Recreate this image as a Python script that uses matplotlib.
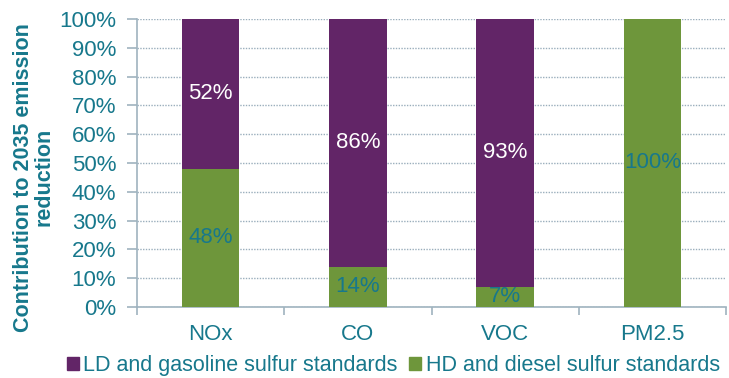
"""Contribution of LD and HD standards to 2035 emission reduction, stacked to 100%."""
import matplotlib.pyplot as plt
import numpy as np
from matplotlib.patches import Patch

CATEGORIES = ["NOx", "CO", "VOC", "PM2.5"]
HD_SHARE = [48, 14, 7, 100]   # HD and diesel sulfur standards (bottom)
LD_SHARE = [52, 86, 93, 0]    # LD and gasoline sulfur standards (top)
SERIES = ["LD and gasoline sulfur standards", "HD and diesel sulfur standards"]

PURPLE = "#622567"
GREEN = "#6e963b"
TEAL = "#17788c"
AXIS = "#9fb3bf"
FS = 16

plt.rcParams["font.family"] = ["Liberation Sans", "DejaVu Sans"]

fig = plt.figure(figsize=(7.29, 3.78), dpi=100)
ax = fig.add_axes([0.188, 0.188, 0.808, 0.762])

x = np.arange(len(CATEGORIES))
width = 0.39
ax.bar(x, HD_SHARE, width, color=GREEN, zorder=3)
ax.bar(x, LD_SHARE, width, bottom=HD_SHARE, color=PURPLE, zorder=3)

for xi, hd, ld in zip(x, HD_SHARE, LD_SHARE):
    if hd > 0:
        ax.text(xi, hd / 2, f"{hd}%", ha="center", va="center",
                color=TEAL, fontsize=FS, zorder=4)
    if ld > 0:
        ax.text(xi, hd + ld / 2, f"{ld}%", ha="center", va="center",
                color="white", fontsize=FS, zorder=4)

ax.set_xlim(-0.5, len(CATEGORIES) - 0.5)
ax.set_ylim(0, 100)
ax.set_yticks(np.arange(0, 101, 10))
ax.set_yticklabels([f"{v}%" for v in range(0, 101, 10)])
ax.set_xticks(x)
ax.set_xticklabels(CATEGORIES)
ax.set_xticks(np.arange(-0.5, len(CATEGORIES), 1), minor=True)

ax.grid(axis="y", linestyle=(0, (1, 1)), color="#9aaebc", linewidth=1.0, zorder=0)
for side in ("top", "right"):
    ax.spines[side].set_visible(False)
for side in ("left", "bottom"):
    ax.spines[side].set_color(AXIS)
    ax.spines[side].set_linewidth(1.2)

ax.tick_params(axis="y", colors=AXIS, labelcolor=TEAL, labelsize=FS,
               length=7, width=1.2, pad=8)
ax.tick_params(axis="x", which="major", length=0, labelcolor=TEAL,
               labelsize=FS, pad=12)
ax.tick_params(axis="x", which="minor", colors=AXIS, length=6, width=1.2,
               direction="out")

ax.set_ylabel("Contribution to 2035 emission\nreduction", color=TEAL,
              fontsize=15.5, fontweight="bold", linespacing=1.0)
ax.yaxis.set_label_coords(-0.14, 0.45)

handles = [Patch(color=PURPLE), Patch(color=GREEN)]
fig.legend(handles, SERIES, loc="center left", ncol=2, frameon=False,
           bbox_to_anchor=(0.092, 0.032), fontsize=15.5, labelcolor=TEAL,
           handlelength=0.55, handleheight=0.55, handletextpad=0.2,
           columnspacing=0.55, borderpad=0, borderaxespad=0)

fig.savefig("out.png", dpi=100)
